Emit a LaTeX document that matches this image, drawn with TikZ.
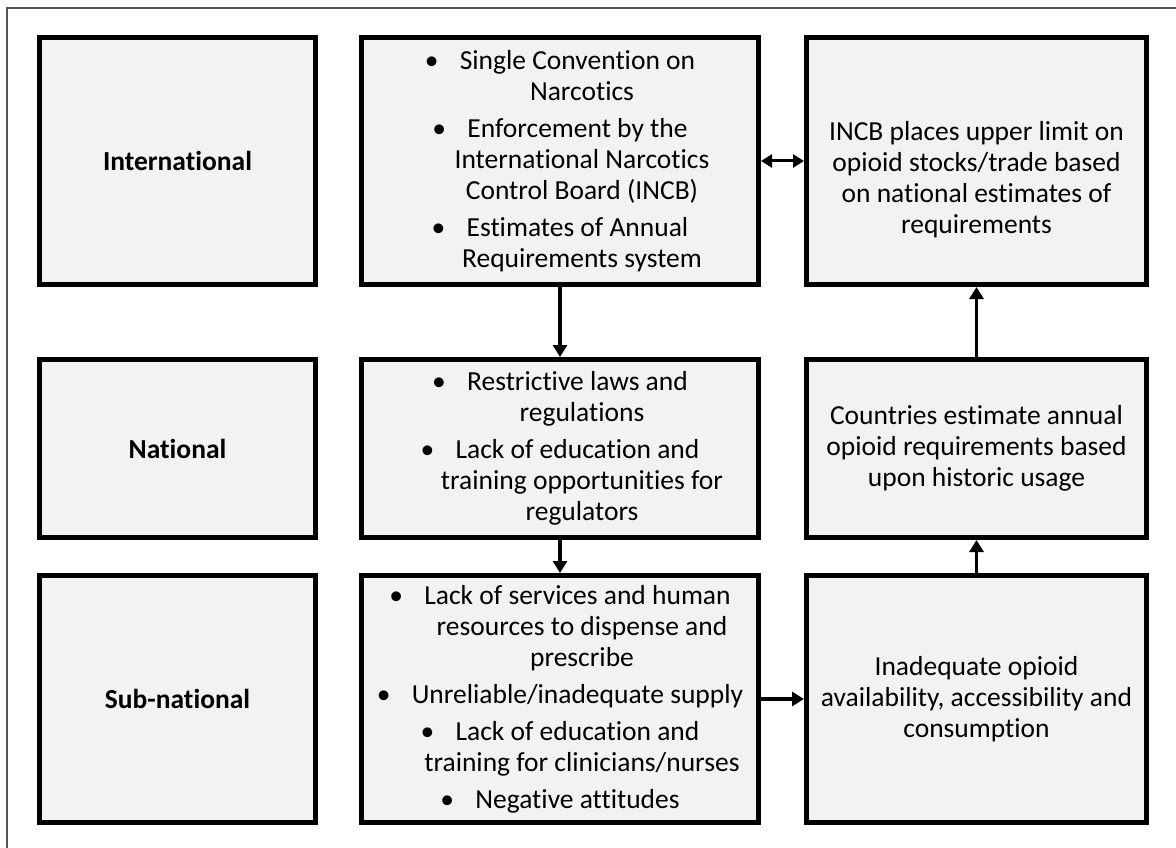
\documentclass[tikz,border=0pt]{standalone}
\usepackage{fontspec}
\setmainfont{Carlito}[Ligatures={NoCommon}]
\usetikzlibrary{arrows.meta}
\newcommand{\bl}[1]{\makebox[35pt][l]{\textbullet}#1}
\newcommand{\cl}[1]{\hspace*{44pt}#1}
\definecolor{boxfill}{HTML}{F2F2F2}
\definecolor{framegray}{HTML}{555555}
\begin{document}
\begin{tikzpicture}[x=1pt,y=-1pt,
  box/.style={draw=black,fill=boxfill,line width=5pt,rectangle,inner sep=0pt,
    align=center,font=\fontsize{27.5}{31}\selectfont},
  lvl/.style={box,font=\fontsize{27.5}{31}\selectfont\bfseries},
  c1/.style={minimum width=276pt},
  c2/.style={minimum width=397pt},
  c3/.style={minimum width=340pt},
  r1/.style={minimum height=247pt},
  r2/.style={minimum height=178pt},
  r3/.style={minimum height=247pt},
  arr/.style={line width=3.5pt,-{Triangle[length=12pt,width=14pt]}},
  darr/.style={line width=3pt,{Triangle[length=11pt,width=13pt]}-{Triangle[length=11pt,width=13pt]}}
]
\useasboundingbox (0,0) rectangle (1176,848);
\coordinate (ftl) at (7,8);
\coordinate (ftr) at (1176,8);
\coordinate (fbl) at (7,848);
\draw[framegray,line width=1.5pt] (ftr) -- (ftl) -- (fbl);

\node[lvl,c1,r1] (l1) at (177.5,161) {International};
\node[lvl,c1,r2] (l2) at (177.5,448.5) {National};
\node[lvl,c1,r3] (l3) at (177.5,699) {Sub-national};

\node[box,c2,r1] (b12) at (560,161) {\bl{Single Convention on}\\ \cl{Narcotics}\\[6pt]
  \bl{Enforcement by the}\\ \cl{International Narcotics}\\ \cl{Control Board (INCB)}\\[6pt]
  \bl{Estimates of Annual}\\ \cl{Requirements system}};
\node[box,c2,r2] (b22) at (560,448.5) {\bl{Restrictive laws and}\\ \cl{regulations}\\[6pt]
  \bl{Lack of education and}\\ \cl{training opportunities for}\\ \cl{regulators}};
\node[box,c2,r3] (b32) at (560,699) {\bl{Lack of services and human}\\ \cl{resources to dispense and}\\ \cl{prescribe}\\[6pt]
  \bl{Unreliable/inadequate supply}\\[6pt]
  \bl{Lack of education and}\\ \cl{training for clinicians/nurses}\\[6pt]
  \bl{Negative attitudes}};

\node[box,c3,r1] (b13) at (976.5,161) {\rule{0pt}{56pt}INCB places upper limit on\\ opioid stocks/trade based\\ on national estimates of\\ requirements};
\node[box,c3,r2] (b23) at (976.5,448.5) {Countries estimate annual\\ opioid requirements based\\ upon historic usage};
\node[box,c3,r3] (b33) at (976.5,699) {Inadequate opioid\\ availability, accessibility and\\ consumption};

\draw[arr] (b12.south) -- (b22.north);
\draw[arr] (b22.south) -- (b32.north);
\draw[arr] (b32.east) -- (b33.west);
\draw[arr] (b33.north) -- (b23.south);
\draw[arr] (b23.north) -- (b13.south);
\draw[darr] (b12.east) -- (b13.west);
\end{tikzpicture}
\end{document}
